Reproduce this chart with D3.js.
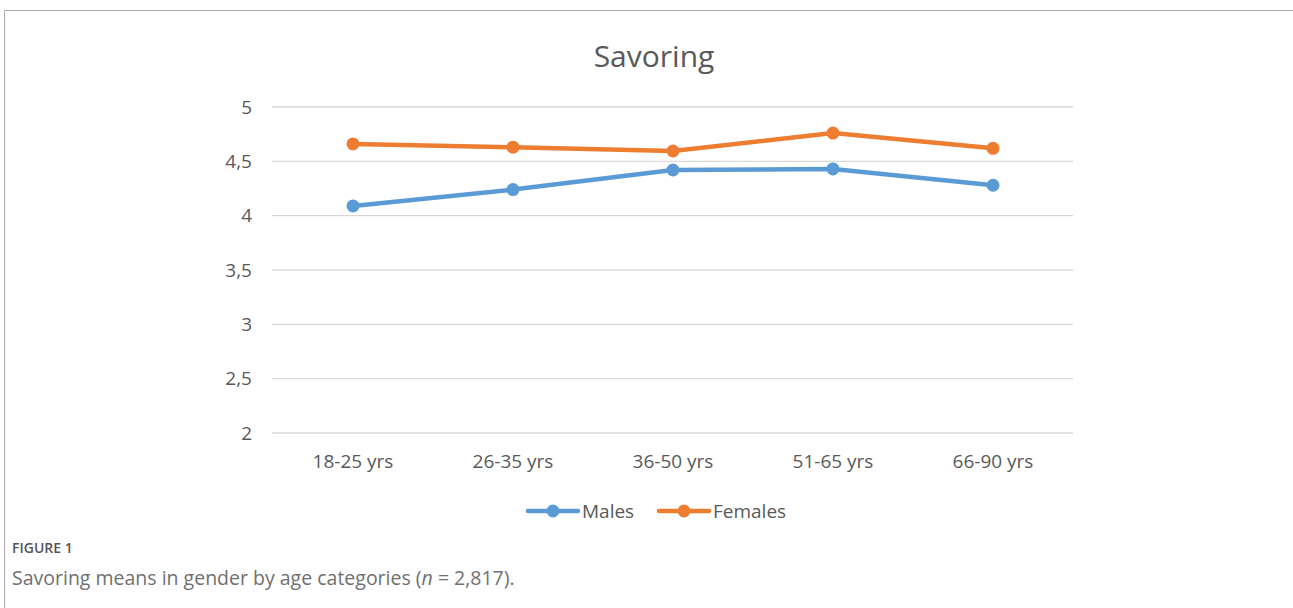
<!DOCTYPE html>
<html>
<head>
<meta charset="utf-8">
<script src="https://cdn.jsdelivr.net/npm/d3@7"></script>
<style>
body { margin: 0; background: #fff; }
</style>
</head>
<body>
<div id="chart"></div>
<script>
var categories = ["18-25 yrs", "26-35 yrs", "36-50 yrs", "51-65 yrs", "66-90 yrs"];
var males = [4.09, 4.24, 4.42, 4.43, 4.28];
var females = [4.66, 4.63, 4.595, 4.76, 4.62];
var yTicks = [2, 2.5, 3, 3.5, 4, 4.5, 5];
var seriesNames = ["Males", "Females"];
var seriesColors = ["#5B9BD5", "#ED7D31"];

var width = 1293;
var height = 608;
var font = "'Open Sans', 'Noto Sans', sans-serif";

var svg = d3.select("#chart").append("svg")
    .attr("width", width)
    .attr("height", height);

// frame
svg.append("path")
    .attr("d", "M4.5," + height + "V10.5H" + width)
    .attr("fill", "none")
    .attr("stroke", "#aaa")
    .attr("stroke-width", 1);

var x = d3.scaleBand().domain(categories).range([273, 1073]);
var y = d3.scaleLinear().domain([2, 5]).range([433, 107]);

// gridlines
svg.selectAll(".grid")
    .data(yTicks)
    .enter().append("line")
    .attr("x1", 272).attr("x2", 1073)
    .attr("y1", d => y(d)).attr("y2", d => y(d))
    .attr("stroke", "#d9d9d9")
    .attr("stroke-width", 1.3);

// y labels
svg.selectAll(".ylab")
    .data(yTicks)
    .enter().append("text")
    .attr("x", 252)
    .attr("y", d => y(d))
    .attr("dy", "0.35em")
    .attr("text-anchor", "end")
    .attr("font-family", font)
    .attr("font-size", 19)
    .attr("fill", "#595959")
    .text(d => String(d).replace(".", ","));

// x labels
svg.selectAll(".xlab")
    .data(categories)
    .enter().append("text")
    .attr("x", d => x(d) + x.bandwidth() / 2)
    .attr("y", 468)
    .attr("text-anchor", "middle")
    .attr("font-family", font)
    .attr("font-size", 19)
    .attr("fill", "#595959")
    .text(d => d);

// title
svg.append("text")
    .attr("x", 654).attr("y", 67)
    .attr("text-anchor", "middle")
    .attr("font-family", font)
    .attr("font-size", 30)
    .attr("fill", "#595959")
    .text("Savoring");

var line = d3.line()
    .x((d, i) => x(categories[i]) + x.bandwidth() / 2)
    .y(d => y(d));

[males, females].forEach(function(vals, k) {
    svg.append("path")
        .datum(vals)
        .attr("d", line)
        .attr("fill", "none")
        .attr("stroke", seriesColors[k])
        .attr("stroke-width", 4.5)
        .attr("stroke-linejoin", "round");
    svg.selectAll(".pt" + k)
        .data(vals)
        .enter().append("circle")
        .attr("cx", (d, i) => x(categories[i]) + x.bandwidth() / 2)
        .attr("cy", d => y(d))
        .attr("r", 6.5)
        .attr("fill", seriesColors[k]);
});

// legend
var legX = [528, 659];
seriesNames.forEach(function(name, k) {
    var g = svg.append("g").attr("transform", "translate(" + legX[k] + ",511)");
    g.append("line")
        .attr("x1", 0).attr("x2", 50)
        .attr("stroke", seriesColors[k])
        .attr("stroke-width", 4.5)
        .attr("stroke-linecap", "round");
    g.append("circle").attr("cx", 25).attr("r", 6.5).attr("fill", seriesColors[k]);
    g.append("text")
        .attr("x", 54).attr("dy", "0.35em")
        .attr("font-family", font)
        .attr("font-size", 19)
        .attr("fill", "#595959")
        .text(name);
});

// caption
svg.append("text")
    .attr("x", 12).attr("y", 553)
    .attr("font-family", font)
    .attr("font-size", 14)
    .attr("font-weight", 600)
    .attr("fill", "#555")
    .text("FIGURE 1");

var cap = svg.append("text")
    .attr("x", 12).attr("y", 585)
    .attr("font-family", font)
    .attr("font-size", 19.5)
    .attr("fill", "#707070");
cap.append("tspan").text("Savoring means in gender by age categories (");
cap.append("tspan").attr("font-style", "italic").text("n");
cap.append("tspan").text(" = 2,817).");
</script>
</body>
</html>
